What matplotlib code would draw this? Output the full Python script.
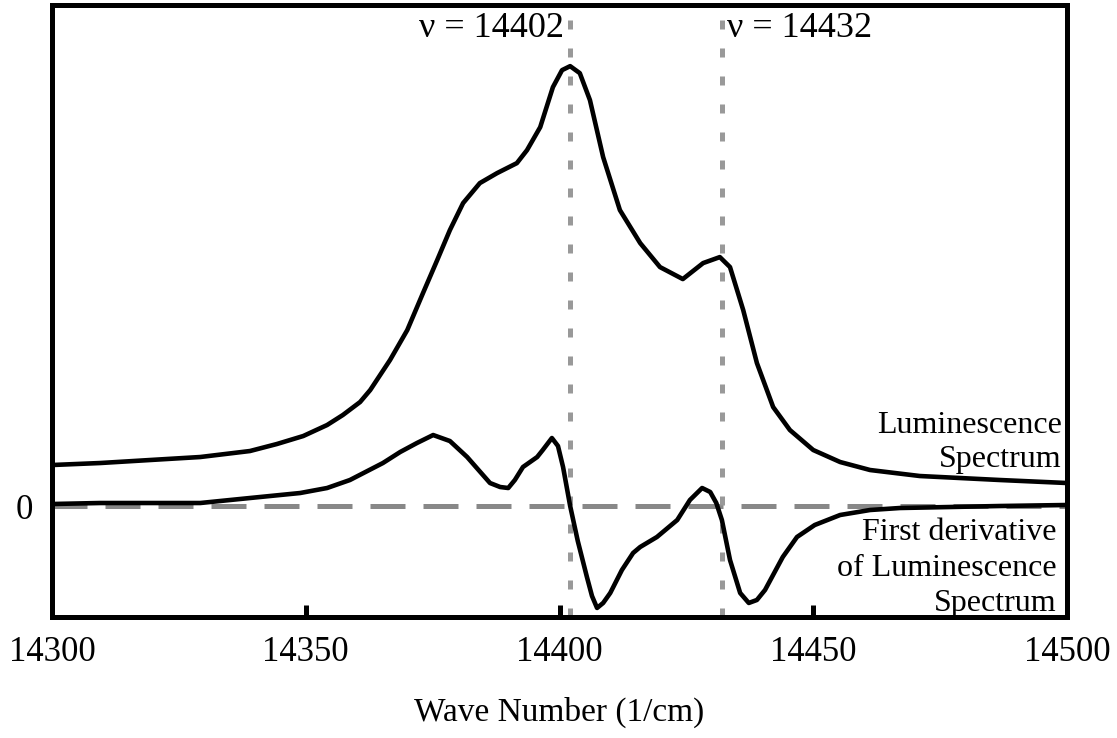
import matplotlib
matplotlib.use("Agg")
import matplotlib.pyplot as plt

plt.rcParams['font.family'] = ['Liberation Serif', 'DejaVu Serif']

# luminescence spectrum (arbitrary units)
lum_x = [14300, 14309.5, 14319.3, 14329.2, 14339, 14344.3, 14349.5, 14354.2, 14357.3,
         14360.7, 14362.7, 14366.6, 14370, 14373.1, 14375.9, 14378.4, 14381, 14384.3,
         14387.7, 14391.6, 14393.6, 14396.2, 14398.7, 14400.5, 14402.1, 14404, 14406,
         14408.6, 14411.9, 14415.9, 14419.8, 14424.3, 14428.3, 14431.6, 14433.6,
         14436.2, 14438.9, 14442.1, 14445.4, 14450, 14455.3, 14461.2, 14471, 14478.9,
         14486.8, 14500]
lum_y = [0.41, 0.43, 0.46, 0.49, 0.55, 0.62, 0.70, 0.81, 0.91,
         1.04, 1.16, 1.46, 1.76, 2.13, 2.46, 2.76, 3.03, 3.23,
         3.33, 3.43, 3.56, 3.79, 4.19, 4.36, 4.40, 4.33, 4.06,
         3.49, 2.96, 2.63, 2.39, 2.27, 2.43, 2.49, 2.39,
         1.96, 1.43, 0.99, 0.76, 0.56, 0.44, 0.36, 0.30, 0.28,
         0.26, 0.23]

# first derivative of the spectrum
der_x = [14300, 14309.5, 14319.3, 14329.2, 14339, 14348.9, 14354.2, 14358.7, 14365.2,
         14368.6, 14371.9, 14375.1, 14378.4, 14381.8, 14383.7, 14386.3, 14388.3, 14389.9,
         14391.2, 14392.8, 14395.6, 14396.7, 14398.5, 14399.7, 14400.7, 14402.1, 14403.6,
         14405.4, 14406.4, 14407.4, 14408.6, 14410, 14412.3, 14414.5, 14415.9, 14419.2,
         14423.2, 14425.7, 14428.1, 14429.7, 14430.9, 14432, 14433.6, 14435.6, 14437.3,
         14438.9, 14440.5, 14444, 14446.8, 14450.3, 14455.3, 14461.2, 14467.1, 14477,
         14486.8, 14500]
der_y = [0.02, 0.03, 0.03, 0.03, 0.08, 0.13, 0.18, 0.26, 0.43,
         0.54, 0.63, 0.71, 0.65, 0.49, 0.38, 0.23, 0.19, 0.18,
         0.26, 0.39, 0.49, 0.56, 0.68, 0.60, 0.39, 0.00, -0.35,
         -0.71, -0.90, -1.02, -0.97, -0.87, -0.64, -0.47, -0.41, -0.31,
         -0.14, 0.06, 0.18, 0.14, 0.03, -0.14, -0.54, -0.87, -0.97,
         -0.94, -0.84, -0.51, -0.31, -0.19, -0.09, -0.04, -0.02, -0.01,
         0.00, 0.01]

peaks = [14402, 14432]
xticks = [14300, 14350, 14400, 14450, 14500]

fig = plt.figure(figsize=(11.17, 7.38), dpi=100)
ax = fig.add_axes([0.0466, 0.164, 0.9086, 0.829])

ax.axhline(0, color='#888888', lw=3.6, dashes=(7, 3.6), zorder=1)
for p in peaks:
    ax.axvline(p, color='#999999', lw=3.6, dashes=(1.8, 3.8), zorder=1)

ax.plot(lum_x, lum_y, color='black', lw=3.3, zorder=2,
        solid_joinstyle='round', solid_capstyle='round')
ax.plot(der_x, der_y, color='black', lw=3.3, zorder=2,
        solid_joinstyle='round', solid_capstyle='round')

ax.set_xlim(14300, 14500)
ax.set_ylim(-1.11, 5.01)

for s in ax.spines.values():
    s.set_linewidth(3.6)

ax.set_xticks(xticks)
ax.set_xticklabels([str(t) for t in xticks])
ax.tick_params(axis='x', direction='in', length=9, width=3.6, pad=14, labelsize=25)
ax.set_yticks([0])
ax.set_yticklabels(['0'])
ax.tick_params(axis='y', length=0, pad=14, labelsize=25)
ax.set_xlabel('Wave Number (1/cm)', fontsize=24, labelpad=20)

ax.annotate('ν = 14402', xy=(peaks[0], 4.78), xytext=(-4, 0), textcoords='offset points',
            ha='right', va='center', fontsize=26)
ax.annotate('ν = 14432', xy=(peaks[1], 4.78), xytext=(4, 0), textcoords='offset points',
            ha='left', va='center', fontsize=26)

ax.text(14499, 0.95, 'Luminescence\nSpectrum', ha='right', va='top',
        fontsize=23, linespacing=1.24)
ax.text(14498, -0.12, 'First derivative\nof Luminescence\nSpectrum', ha='right', va='top',
        fontsize=23, linespacing=1.3)

fig.savefig('out.png', dpi=100)
